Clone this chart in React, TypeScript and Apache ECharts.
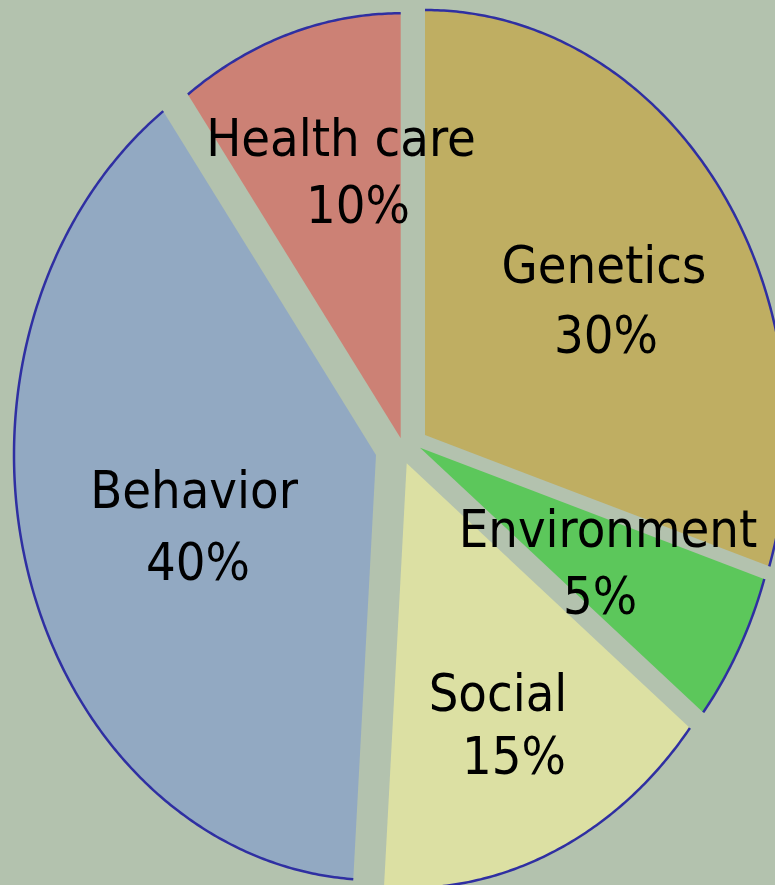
import React, { useEffect, useRef } from "react";
import * as echarts from "echarts";

// ---- data ----
const categories = ["Genetics", "Environment", "Social", "Behavior", "Health care"];
const shares = [30, 5.7, 15.3, 39, 10];
const percentLabels = ["30%", "5%", "15%", "40%", "10%"];

// ---- styles / layout ----
const colors = ["#bfae62", "#5cc75b", "#dce0a3", "#92a9c2", "#cc8175"];
const BG = "#b3c2ae";
const BORDER = "#2f2fa2";
const CX = 400;
const CY = 450;
const RX = 362;
const RY = 425;
const explode: number[][] = [
  [25, -15],
  [20, -2.3],
  [6.7, 13.3],
  [-24, 5],
  [0.7, -11.7],
];
const labelLines: number[][] = [
  [604, 265, 606, 335],
  [608, 529, 600, 596],
  [498, 693, 514, 756],
  [194, 490, 198, 562],
  [341, 138, 358, 205],
];
const FONT = '"DejaVu Sans Condensed", "DejaVu Sans", sans-serif';
const FONT_SIZE = 52;

export default function App() {
  const ref = useRef<HTMLDivElement>(null);
  useEffect(() => {
    if (!ref.current) return;
    const chart = echarts.init(ref.current, null, { renderer: "svg" });
    const total = shares.reduce((a, b) => a + b, 0);
    chart.setOption({
      animation: false,
      backgroundColor: BG,
      series: [
        {
          type: "custom",
          coordinateSystem: "none",
          data: shares.map((v, i) => ({ name: categories[i], value: [v] })),
          renderItem: (params: any, api: any) => {
            const i = params.dataIndex;
            let before = 0;
            for (let j = 0; j < i; j++) before += shares[j];
            const v = api.value(0);
            const a0 = (before / total) * Math.PI * 2;
            const a1 = ((before + v) / total) * Math.PI * 2;
            const vx = CX + explode[i][0];
            const vy = CY + explode[i][1];
            const n = Math.max(8, Math.ceil((a1 - a0) / (Math.PI / 360)));
            const arc: number[][] = [];
            for (let k = 0; k <= n; k++) {
              const a = a0 + ((a1 - a0) * k) / n;
              arc.push([vx + RX * Math.sin(a), vy - RY * Math.cos(a)]);
            }
            const ll = labelLines[i];
            const textStyle = {
              fill: "#000",
              fontSize: FONT_SIZE,
              fontFamily: FONT,
              align: "center",
              verticalAlign: "middle",
            };
            return {
              type: "group",
              children: [
                {
                  type: "polygon",
                  shape: { points: [[vx, vy], ...arc] },
                  style: { fill: colors[i] },
                },
                {
                  type: "polyline",
                  shape: { points: arc },
                  style: { stroke: BORDER, lineWidth: 2.5, fill: null },
                },
                {
                  type: "text",
                  x: ll[0],
                  y: ll[1],
                  z2: 100,
                  style: { ...textStyle, text: categories[i] },
                },
                {
                  type: "text",
                  x: ll[2],
                  y: ll[3],
                  z2: 100,
                  style: { ...textStyle, text: percentLabels[i] },
                },
              ],
            };
          },
        },
      ],
    });
    return () => chart.dispose();
  }, []);
  return (
    <div
      ref={ref}
      style={{ position: "fixed", left: 0, top: 0, width: 775, height: 885 }}
    />
  );
}
